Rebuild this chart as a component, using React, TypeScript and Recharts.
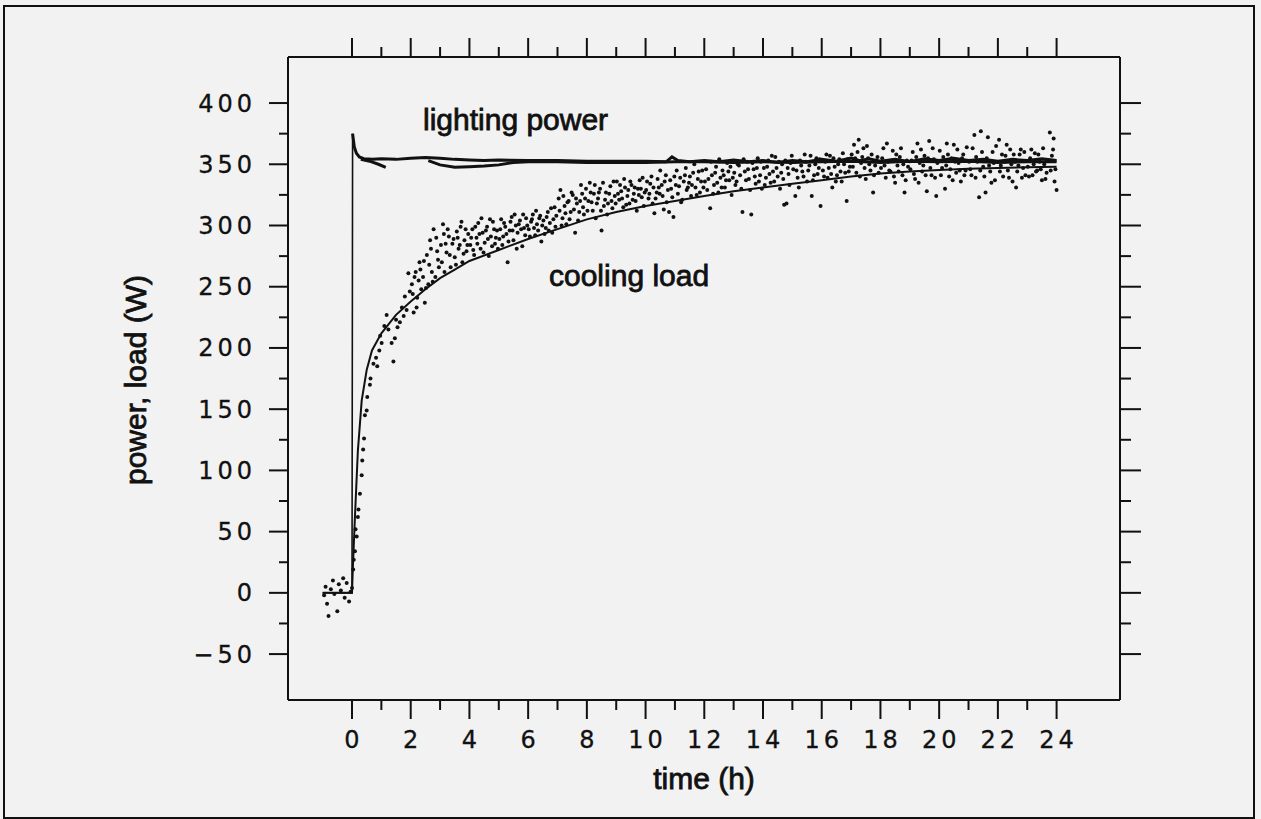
import React from "react";
import { ComposedChart, Line, Scatter, XAxis, YAxis } from "recharts";

const INK = "#111";

// hour ticks along the time axis (every 2 h labelled)
const xTicks = [0, 1, 2, 3, 4, 5, 6, 7, 8, 9, 10, 11, 12, 13, 14, 15, 16, 17, 18, 19, 20, 21, 22, 23, 24];
// power ticks (every 50 W labelled)
const yTicks = [-50, -25, 0, 25, 50, 75, 100, 125, 150, 175, 200, 225, 250, 275, 300, 325, 350, 375, 400];

// lighting power, the step at t = 0
const lightingRise: [number, number][] = [
  [-1, 0], [0, 0], [0.02, 375],
];

// lighting power after switch-on
const lightingPower: [number, number][] = [
  [0.02, 375], [0.08, 364], [0.15, 359], [0.25, 356], [0.4, 354.5], [0.7, 354], [1, 354.5],
  [1.5, 354], [2, 355], [2.5, 355.5], [3, 355], [3.5, 354], [4, 353.5], [4.5, 353], [5, 353.5],
  [6, 353], [7, 353], [8, 352.5], [9, 352.5], [10, 352.5], [10.7, 352], [10.9, 356], [11.1, 353],
  [11.5, 352], [12, 353], [12.5, 352], [13, 353.5], [13.5, 352], [14, 353], [14.5, 351.5],
  [15, 353], [15.5, 352], [16, 354], [16.5, 352.5], [17, 355], [17.3, 353], [17.6, 354.5],
  [18, 352.5], [18.5, 354], [19, 352], [19.5, 354.5], [20, 353], [20.5, 355], [21, 353],
  [21.5, 354], [22, 352.5], [22.5, 354], [23, 353], [23.5, 354.5], [24, 353],
];

// second lighting trace (gaps where it coincides with the first)
const lightingSecond: [number, number | null][] = [
  [0.3, 354], [0.6, 352.5], [0.9, 350], [1.15, 347.5], [1.5, null],
  [2.6, 353], [3, 349.5], [3.5, 347.5], [4, 348], [4.5, 348.5], [5, 349.5], [5.5, 351.5],
  [6, 352], [7, 352], [8, 351.5], [9, 351.5], [10, 351.5], [11, 352], [12, 352], [13, 351.5],
  [14, 352], [15, 351.5], [16, 352], [17, 352.5], [18, 351.5], [19, 352.5], [20, 352],
  [21, 352.5], [22, 351.5], [23, 352], [24, 352],
];

// fitted cooling load curve
const coolingFit: [number, number][] = [
  [-1, 0], [0, 0], [0.03, 21], [0.1, 62], [0.2, 116], [0.33, 157], [0.5, 182], [0.68, 198],
  [1, 212], [1.5, 227], [2, 238], [2.5, 248], [3, 257], [3.5, 264], [4, 271], [5, 280],
  [6, 289], [7, 297], [8, 305], [9, 311], [10, 316], [11, 320], [12, 324], [13, 328],
  [14, 331], [15, 334], [16, 337], [17, 340], [18, 342.5], [19, 344], [20, 345.3],
  [21, 346.4], [22, 347], [23, 347.6], [24, 348],
];

// measured cooling load
const coolingMeasured: [number, number][] = [
  [-0.95, -2], [-0.9, 5], [-0.85, -9], [-0.8, -19], [-0.72, 3], [-0.65, 10], [-0.6, -1],
  [-0.5, -15], [-0.45, 7], [-0.38, 2], [-0.3, 12], [-0.25, -4], [-0.18, 8], [-0.1, -7],
  [-0.05, 1], [0, 4],
  [0.04, 19], [0.06, 27], [0.1, 34], [0.12, 52], [0.16, 46], [0.2, 62], [0.22, 68], [0.27, 81],
  [0.33, 96], [0.35, 108], [0.38, 117], [0.41, 126], [0.44, 145], [0.5, 149], [0.52, 160],
  [0.61, 170], [0.63, 175], [0.73, 187], [0.82, 192], [0.86, 185], [0.93, 198], [0.96, 210],
  [1.01, 204], [1.1, 218], [1.18, 227], [1.24, 215], [1.35, 204], [1.41, 189], [1.46, 208],
  [1.5, 223], [1.55, 217], [1.63, 221], [1.7, 233], [1.76, 226], [1.8, 242], [1.86, 231],
  [1.92, 261], [1.97, 246],
  [2.04, 252], [2.1, 229], [2.17, 262], [2.22, 241], [2.3, 270], [2.36, 248], [2.42, 258],
  [2.48, 237], [2.55, 276], [2.6, 252], [2.66, 288], [2.72, 262], [2.78, 297], [2.84, 258],
  [2.9, 279], [2.96, 266],
  [2.07, 244], [2.13, 258], [2.2, 233], [2.27, 255], [2.33, 264], [2.45, 271], [2.52, 249],
  [2.63, 268], [2.69, 281], [2.75, 254], [2.87, 290], [2.93, 272],
  [3.03, 284], [3.1, 301], [3.15, 262], [3.22, 278], [3.3, 291], [3.36, 266], [3.42, 285],
  [3.5, 274], [3.57, 295], [3.63, 281], [3.7, 299], [3.76, 270], [3.83, 288], [3.9, 279],
  [3.96, 293],
  [3.06, 270], [3.13, 293], [3.19, 285], [3.26, 297], [3.33, 276], [3.46, 289], [3.54, 268],
  [3.6, 290], [3.67, 284], [3.73, 303], [3.8, 277], [3.87, 297], [3.93, 284],
  [4.03, 284], [4.1, 297], [4.16, 276], [4.24, 290], [4.3, 302], [4.38, 281], [4.45, 294],
  [4.52, 286], [4.6, 299], [4.66, 275], [4.73, 291], [4.8, 303], [4.87, 285], [4.94, 296],
  [4.06, 290], [4.13, 280], [4.2, 299], [4.27, 285], [4.34, 293], [4.41, 306], [4.48, 278],
  [4.56, 296], [4.63, 289], [4.7, 305], [4.77, 283], [4.84, 297], [4.9, 290], [4.97, 281],
  [5.02, 289], [5.08, 305], [5.15, 291], [5.22, 299], [5.3, 270], [5.37, 296], [5.44, 307],
  [5.5, 288], [5.58, 300], [5.64, 294], [5.72, 304], [5.8, 283], [5.86, 298], [5.93, 306],
  [5.05, 297], [5.12, 284], [5.18, 302], [5.26, 293], [5.33, 287], [5.4, 303], [5.47, 296],
  [5.54, 309], [5.61, 281], [5.68, 301], [5.76, 297], [5.83, 309], [5.9, 292], [5.97, 300],
  [6.02, 297], [6.1, 303], [6.16, 309], [6.24, 292], [6.3, 301], [6.38, 306], [6.45, 287],
  [6.52, 304], [6.6, 298], [6.67, 311], [6.74, 302], [6.82, 294], [6.9, 315], [6.96, 308],
  [6.06, 291], [6.13, 305], [6.2, 298], [6.27, 312], [6.34, 296], [6.41, 308], [6.48, 300],
  [6.56, 293], [6.63, 307], [6.7, 296], [6.78, 314], [6.86, 305], [6.93, 299],
  [7.04, 322], [7.1, 329], [7.17, 306], [7.24, 316], [7.3, 301], [7.38, 320], [7.45, 311],
  [7.52, 325], [7.6, 294], [7.66, 318], [7.74, 311], [7.8, 333], [7.87, 315], [7.94, 322],
  [7.07, 312], [7.14, 300], [7.2, 324], [7.27, 310], [7.34, 319], [7.41, 305], [7.48, 327],
  [7.56, 313], [7.63, 322], [7.7, 304], [7.77, 320], [7.84, 326], [7.9, 309], [7.97, 330],
  [8.02, 312], [8.1, 335], [8.16, 319], [8.24, 326], [8.3, 306], [8.38, 322], [8.45, 330],
  [8.5, 296], [8.58, 316], [8.65, 327], [8.72, 318], [8.8, 332], [8.87, 314], [8.95, 324],
  [8.05, 320], [8.13, 327], [8.2, 312], [8.27, 333], [8.34, 318], [8.41, 327], [8.48, 312],
  [8.55, 335], [8.62, 321], [8.69, 309], [8.76, 326], [8.84, 320], [8.91, 336], [8.98, 318],
  [9.02, 336], [9.1, 321], [9.17, 328], [9.24, 315], [9.3, 331], [9.38, 324], [9.45, 318],
  [9.52, 333], [9.6, 326], [9.66, 320], [9.74, 330], [9.8, 337], [9.87, 323], [9.94, 316],
  [9.06, 326], [9.13, 333], [9.2, 322], [9.27, 338], [9.34, 317], [9.41, 329], [9.48, 336],
  [9.56, 321], [9.63, 331], [9.7, 312], [9.77, 325], [9.84, 330], [9.9, 339], [9.97, 327],
  [10.02, 329], [10.1, 322], [10.16, 334], [10.24, 318], [10.3, 310], [10.38, 327],
  [10.45, 331], [10.5, 345], [10.58, 324], [10.65, 336], [10.72, 319], [10.8, 311],
  [10.87, 330], [10.95, 307],
  [10.05, 336], [10.13, 326], [10.2, 340], [10.27, 331], [10.34, 322], [10.41, 338],
  [10.48, 326], [10.55, 333], [10.62, 313], [10.69, 341], [10.76, 329], [10.84, 337],
  [10.91, 323], [10.98, 340],
  [11.03, 333], [11.1, 326], [11.18, 339], [11.25, 321], [11.34, 341], [11.4, 329],
  [11.48, 335], [11.55, 324], [11.62, 343], [11.7, 331], [11.78, 338], [11.85, 327], [11.93, 345],
  [11.06, 345], [11.14, 332], [11.21, 319], [11.3, 336], [11.37, 347], [11.44, 331],
  [11.51, 340], [11.58, 333], [11.66, 350], [11.74, 325], [11.81, 344], [11.89, 336], [11.97, 331],
  [12.02, 336], [12.1, 329], [12.2, 314], [12.26, 341], [12.33, 333], [12.4, 348], [12.48, 327],
  [12.55, 339], [12.62, 345], [12.7, 331], [12.78, 351], [12.85, 337], [12.93, 325],
  [12.06, 346], [12.14, 338], [12.23, 352], [12.3, 326], [12.37, 343], [12.44, 335],
  [12.51, 354], [12.59, 331], [12.66, 341], [12.74, 337], [12.82, 344], [12.89, 348], [12.97, 339],
  [13.02, 343], [13.1, 336], [13.18, 349], [13.26, 330], [13.3, 311], [13.38, 344],
  [13.46, 352], [13.52, 338], [13.6, 309], [13.68, 346], [13.75, 334], [13.82, 355],
  [13.9, 341], [13.96, 330],
  [13.06, 333], [13.14, 350], [13.22, 341], [13.34, 354], [13.42, 337], [13.49, 346],
  [13.56, 329], [13.64, 351], [13.72, 340], [13.79, 347], [13.86, 336], [13.93, 352],
  [14.03, 347], [14.1, 339], [14.18, 353], [14.26, 335], [14.34, 344], [14.42, 356], [14.5, 340],
  [14.58, 330], [14.65, 350], [14.72, 317], [14.8, 318], [14.87, 342], [14.94, 351],
  [14.06, 333], [14.14, 348], [14.22, 342], [14.3, 357], [14.38, 336], [14.46, 347],
  [14.54, 352], [14.62, 343], [14.69, 338], [14.76, 353], [14.84, 347], [14.9, 333], [14.98, 357],
  [15.03, 346], [15.1, 324], [15.18, 339], [15.26, 353], [15.34, 344], [15.42, 358], [15.5, 336],
  [15.58, 349], [15.66, 324], [15.74, 341], [15.82, 355], [15.9, 347], [15.96, 316],
  [15.06, 352], [15.14, 345], [15.22, 331], [15.3, 349], [15.38, 340], [15.46, 352],
  [15.54, 345], [15.62, 357], [15.7, 337], [15.78, 350], [15.86, 342], [15.93, 354],
  [16.04, 345], [16.12, 352], [16.2, 339], [16.28, 357], [16.36, 331], [16.44, 348],
  [16.52, 341], [16.6, 354], [16.68, 336], [16.76, 350], [16.85, 320], [16.92, 344],
  [16.08, 340], [16.16, 358], [16.24, 347], [16.32, 342], [16.4, 355], [16.48, 336],
  [16.56, 350], [16.64, 344], [16.72, 359], [16.8, 343], [16.88, 354], [16.96, 348],
  [17.02, 358], [17.1, 366], [17.18, 343], [17.26, 370], [17.34, 351], [17.42, 363],
  [17.5, 338], [17.58, 355], [17.66, 345], [17.75, 327], [17.82, 349], [17.9, 356],
  [17.06, 348], [17.14, 355], [17.22, 360], [17.3, 340], [17.38, 356], [17.46, 347],
  [17.54, 365], [17.62, 350], [17.7, 358], [17.78, 341], [17.86, 353], [17.94, 343],
  [18.02, 347], [18.1, 363], [18.18, 339], [18.26, 352], [18.34, 344], [18.42, 361],
  [18.5, 335], [18.58, 349], [18.66, 356], [18.75, 341], [18.82, 327], [18.9, 353],
  [18.06, 355], [18.14, 349], [18.22, 367], [18.3, 345], [18.38, 353], [18.46, 340],
  [18.54, 358], [18.62, 344], [18.7, 363], [18.78, 350], [18.86, 337], [18.94, 348],
  [19.02, 346], [19.1, 360], [19.18, 338], [19.26, 367], [19.34, 351], [19.42, 344],
  [19.5, 357], [19.58, 328], [19.66, 369], [19.74, 341], [19.82, 354], [19.9, 324],
  [19.06, 353], [19.14, 342], [19.22, 356], [19.3, 335], [19.38, 362], [19.46, 349],
  [19.54, 341], [19.62, 355], [19.7, 347], [19.78, 363], [19.86, 339], [19.94, 351],
  [20.02, 361], [20.1, 347], [20.2, 330], [20.26, 367], [20.34, 340], [20.42, 355],
  [20.5, 366], [20.58, 343], [20.66, 351], [20.74, 336], [20.82, 358], [20.9, 345],
  [20.06, 341], [20.14, 356], [20.24, 349], [20.3, 358], [20.38, 346], [20.46, 337],
  [20.54, 352], [20.62, 362], [20.7, 345], [20.78, 355], [20.86, 341], [20.94, 364],
  [21.02, 352], [21.1, 341], [21.2, 374], [21.26, 356], [21.36, 323], [21.42, 377],
  [21.5, 348], [21.58, 327], [21.66, 372], [21.74, 344], [21.82, 360], [21.9, 337],
  [21.06, 346], [21.14, 363], [21.24, 339], [21.3, 352], [21.4, 345], [21.46, 360],
  [21.54, 340], [21.62, 355], [21.7, 349], [21.78, 335], [21.86, 351], [21.94, 365],
  [22.04, 370], [22.1, 349], [22.18, 340], [22.26, 357], [22.34, 345], [22.42, 362],
  [22.5, 336], [22.58, 352], [22.66, 344], [22.74, 358], [22.82, 339], [22.9, 360],
  [22.07, 344], [22.14, 358], [22.22, 352], [22.3, 366], [22.38, 339], [22.46, 350],
  [22.54, 358], [22.62, 331], [22.7, 349], [22.78, 362], [22.86, 347], [22.94, 341],
  [23.02, 348], [23.1, 355], [23.18, 341], [23.26, 359], [23.34, 345], [23.42, 352],
  [23.5, 337], [23.58, 350], [23.66, 343], [23.77, 376], [23.84, 357], [23.9, 371],
  [23.96, 346], [24, 329],
  [23.06, 340], [23.14, 362], [23.22, 350], [23.3, 344], [23.38, 358], [23.46, 346],
  [23.54, 363], [23.62, 338], [23.7, 353], [23.8, 345], [23.88, 362], [23.93, 336],
];

const rows = (pairs: [number, number | null][]) => pairs.map(([t, w]) => ({ t, w }));

const X_DOMAIN: [number, number] = [-2.18, 26.16];
const Y_DOMAIN: [number, number] = [-87.5, 437.6];

const tickFont = {
  fontFamily: "DejaVu Sans",
  fontSize: 24,
  letterSpacing: 4,
  fill: INK,
  stroke: INK,
  strokeWidth: 0.3,
};

const BottomTick = (props: any) => {
  const { x, y, payload } = props;
  const major = payload.value % 2 === 0;
  return (
    <g>
      <line x1={x} y1={y} x2={x} y2={y + (major ? 19 : 10)} stroke={INK} strokeWidth={2} />
      {major && (
        <text x={x + 2} y={y + 48} textAnchor="middle" {...tickFont}>
          {payload.value}
        </text>
      )}
    </g>
  );
};

const TopTick = (props: any) => {
  const { x, y, payload } = props;
  const major = payload.value % 2 === 0;
  return <line x1={x} y1={y} x2={x} y2={y - (major ? 19 : 10)} stroke={INK} strokeWidth={2} />;
};

const LeftTick = (props: any) => {
  const { x, y, payload } = props;
  const major = payload.value % 50 === 0;
  const label = payload.value < 0 ? `\u2212${-payload.value}` : `${payload.value}`;
  return (
    <g>
      <line x1={x} y1={y} x2={x - (major ? 19 : 9)} y2={y} stroke={INK} strokeWidth={2} />
      {major && (
        <text x={x - 32} y={y + 8.5} textAnchor="end" {...tickFont}>
          {label}
        </text>
      )}
    </g>
  );
};

const RightTick = (props: any) => {
  const { x, y, payload } = props;
  const major = payload.value % 50 === 0;
  return <line x1={x} y1={y} x2={x + (major ? 21 : 11)} y2={y} stroke={INK} strokeWidth={2} />;
};

const Dot = (props: any) => <circle cx={props.cx} cy={props.cy} r={2} fill={INK} />;

const titleFont = {
  fontFamily: "Liberation Sans, Arial, sans-serif",
  fontSize: 30,
  fill: INK,
  stroke: INK,
  strokeWidth: 0.8,
};

export default function App() {
  return (
    <div style={{ position: "absolute", left: 0, top: 0, width: 1261, height: 819, background: "#f2f2f2" }}>
      <div
        style={{
          position: "absolute",
          left: 3,
          top: 5,
          width: 1248,
          height: 810,
          border: `2px solid ${INK}`,
        }}
      />
      <div style={{ position: "absolute", left: 0, top: 0 }}>
        <ComposedChart width={1261} height={819} margin={{ top: 27, right: 101, bottom: 59, left: 188 }}>
          <XAxis
            xAxisId={0}
            dataKey="t"
            type="number"
            domain={X_DOMAIN}
            allowDataOverflow
            ticks={xTicks}
            interval={0}
            height={60}
            tickSize={0}
            tickMargin={0}
            tickLine={false}
            axisLine={{ stroke: INK, strokeWidth: 2 }}
            tick={<BottomTick />}
          />
          <XAxis
            xAxisId="top"
            orientation="top"
            dataKey="t"
            type="number"
            domain={X_DOMAIN}
            allowDataOverflow
            ticks={xTicks}
            interval={0}
            height={30}
            tickSize={0}
            tickMargin={0}
            tickLine={false}
            axisLine={{ stroke: INK, strokeWidth: 2 }}
            tick={<TopTick />}
          />
          <YAxis
            yAxisId={0}
            dataKey="w"
            type="number"
            domain={Y_DOMAIN}
            allowDataOverflow
            ticks={yTicks}
            interval={0}
            width={100}
            tickSize={0}
            tickMargin={0}
            tickLine={false}
            axisLine={{ stroke: INK, strokeWidth: 2 }}
            tick={<LeftTick />}
          />
          <YAxis
            yAxisId="right"
            orientation="right"
            dataKey="w"
            type="number"
            domain={Y_DOMAIN}
            allowDataOverflow
            ticks={yTicks}
            interval={0}
            width={40}
            tickSize={0}
            tickMargin={0}
            tickLine={false}
            axisLine={{ stroke: INK, strokeWidth: 2 }}
            tick={<RightTick />}
          />
          <Scatter
            data={rows(coolingMeasured)}
            dataKey="w"
            shape={<Dot />}
            isAnimationActive={false}
          />
          <Line
            data={rows(coolingFit)}
            dataKey="w"
            type="linear"
            stroke={INK}
            strokeWidth={2}
            dot={false}
            isAnimationActive={false}
          />
          <Line
            data={rows(lightingRise)}
            dataKey="w"
            type="linear"
            stroke={INK}
            strokeWidth={1.6}
            dot={false}
            isAnimationActive={false}
          />
          <Line
            data={rows(lightingPower)}
            dataKey="w"
            type="linear"
            stroke={INK}
            strokeWidth={3}
            dot={false}
            isAnimationActive={false}
          />
          <Line
            data={rows(lightingSecond)}
            dataKey="w"
            type="linear"
            stroke={INK}
            strokeWidth={3}
            dot={false}
            isAnimationActive={false}
          />
        </ComposedChart>
      </div>
      <svg
        width={1261}
        height={819}
        style={{ position: "absolute", left: 0, top: 0, pointerEvents: "none" }}
      >
        <text x={423} y={129.5} {...titleFont}>lighting power</text>
        <text x={549} y={286} {...titleFont}>cooling load</text>
        <text x={704} y={789} textAnchor="middle" {...titleFont}>time (h)</text>
        <text x={146} y={380} textAnchor="middle" transform="rotate(-90 146 380)" {...titleFont}>
          power, load (W)
        </text>
      </svg>
    </div>
  );
}
